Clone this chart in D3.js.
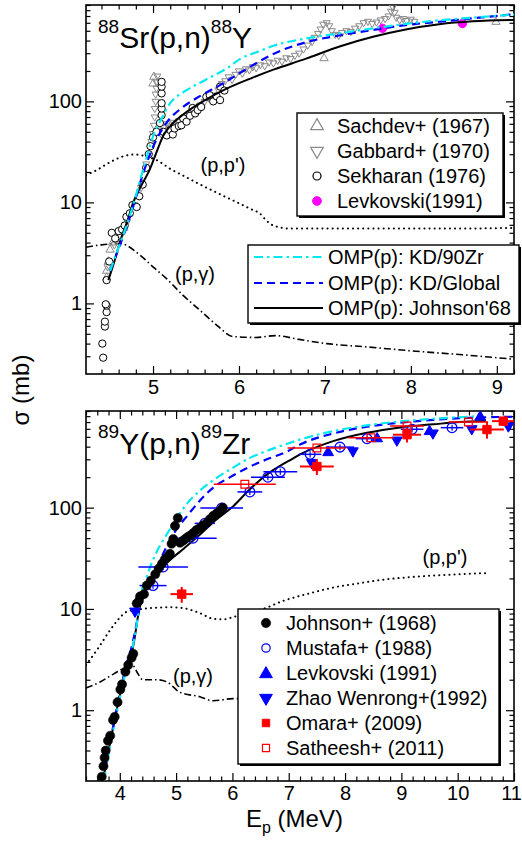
<!DOCTYPE html>
<html><head><meta charset="utf-8">
<script src="https://cdn.jsdelivr.net/npm/d3@7"></script>
<style>
body{margin:0;background:#fff;}
svg text{font-family:"Liberation Sans",Arial,Helvetica,sans-serif;fill:#000;}
</style></head><body>
<svg id="chart" width="522" height="843"></svg>
<script>
// ---------------- DATA ----------------
const yTickLabels = [1, 10, 100];
const yMinorTicks = [0.3,0.4,0.5,0.6,0.7,0.8,0.9,2,3,4,5,6,7,8,9,20,30,40,50,60,70,80,90,200,300,400,500,600,700,800,900];
const topXTicks = [5, 6, 7, 8, 9];
const botXTicks = [4, 5, 6, 7, 8, 9, 10, 11];

// Top panel: 88Sr(p,n)88Y   [E (MeV), sigma (mb)]
const sachdev = [[4.46,1.8],[4.46,2.1],[4.48,2.6],[4.50,3.4],[4.53,4.0],[4.58,4.3],[4.66,5.6],[5.00,150],[5.01,175],[6.99,267],[8.99,612]];
const gabbard = [[4.47,2.3],[4.55,3.8],[4.62,4.6],[4.70,6.5],[4.78,9.5],[4.86,14],[4.92,24],
 [4.98,40],[5.00,48],[5.01,58],[5.02,70],[5.02,85],[5.03,100],[5.03,118],[5.04,135],[5.04,155],[5.05,178],
 [5.07,52],[5.10,47],[5.12,55],[5.14,50],[5.16,60],[5.18,52],[5.20,57],[5.22,50],[5.24,62],[5.27,58],[5.30,64],
 [5.35,66],[5.40,72],[5.45,78],[5.50,84],[5.55,92],[5.60,100],[5.65,108],[5.70,115],
 [5.76,130],[5.80,150],[5.84,160],[5.88,175],[5.92,165],[5.96,185],[6.00,200],[6.04,190],[6.08,210],[6.12,205],[6.16,220],[6.20,215],
 [6.25,230],[6.30,225],[6.35,245],[6.40,240],[6.45,255],[6.50,250],[6.55,270],[6.60,265],[6.65,285],[6.70,300],[6.75,330],[6.80,360],
 [6.85,390],[6.88,430],[6.92,470],[6.95,520],[6.98,580],[7.02,600],[7.05,560],[7.08,500],[7.12,460],[7.16,450],[7.20,480],[7.25,500],
 [7.30,490],[7.35,530],[7.40,560],[7.45,600],[7.50,620],[7.55,590],[7.60,610],[7.65,640],[7.70,660],[7.74,700],[7.77,780],[7.79,860],
 [7.81,760],[7.83,680],[7.87,640],[7.91,660],[7.95,630],[8.00,650],[8.04,620]];
const sekharan = [[4.42,0.29],[4.41,0.40],[4.44,0.59],[4.44,0.66],[4.46,0.82],[4.46,0.95],[4.45,0.98],[4.46,1.7],[4.49,2.6],[4.52,5.0],
 [4.56,4.4],[4.60,5.2],[4.64,5.4],[4.67,5.9],[4.69,7.2],[4.73,7.8],[4.76,9.4],[4.81,9.0],[4.84,11.5],[4.88,15],[4.92,22],[4.95,30],
 [4.97,36],[5.00,44],[5.04,50],[5.08,61],[5.10,73],[5.10,85],[5.10,96],[5.10,120],[5.10,140],[5.10,156],[5.12,50],[5.16,46],[5.20,52],
 [5.23,47],[5.25,54],[5.30,57],[5.33,58],[5.35,68],[5.39,63],[5.43,72],[5.46,86],[5.49,76],[5.52,82],[5.56,88],[5.62,111],[5.66,115],
 [5.70,100],[5.74,112],[5.78,103],[5.78,140],[5.83,128]];
const levkovskiTop = [[7.67,529],[8.60,590]];

const topKD90 = [[4.50,2.1],[4.60,3.6],[4.70,6.2],[4.77,9.5],[4.89,22],[5.00,45],[5.10,68],[5.20,96],[5.39,129],[5.62,165],[5.89,221],
 [6.01,262],[6.24,315],[6.40,355],[6.78,420],[7.17,472],[7.56,529],[7.94,585],[8.33,635],[8.72,675],[9.20,725]];
const topKDGlobal = [[4.50,2.1],[4.60,3.5],[4.70,6.0],[4.77,9.2],[4.89,20],[5.04,42],[5.16,62],[5.35,88],[5.54,112],[5.78,145],[6.05,200],
 [6.24,250],[6.40,295],[6.78,385],[7.17,450],[7.56,509],[7.94,570],[8.33,614],[8.72,665],[9.20,730]];
const topJohnson68 = [[4.48,1.7],[4.55,2.6],[4.62,4.2],[4.70,6.5],[4.77,10],[4.85,14],[4.96,21],[5.05,33],[5.12,46],[5.20,57],[5.35,74],
 [5.58,100],[5.85,133],[6.16,172],[6.40,206],[6.78,265],[7.17,350],[7.56,436],[7.94,515],[8.33,580],[8.72,620],[9.20,640]];
const topPP = [[4.22,18.6],[4.35,21],[4.50,25],[4.65,28.5],[4.79,29.8],[4.92,28.5],[5.05,26],[5.20,21.5],[5.39,17.7],[5.55,15],[5.74,12.5],
 [6.00,9.8],[6.15,8.5],[6.24,7.8],[6.32,6.6],[6.40,5.9],[6.60,5.5],[7.50,5.5],[8.50,5.5],[9.20,5.6]];
const topPG = [[4.22,3.6],[4.40,3.8],[4.62,3.9],[4.85,3.0],[5.00,2.3],[5.16,1.75],[5.35,1.2],[5.55,0.85],[5.75,0.6],[5.93,0.47],[6.20,0.46],
 [6.42,0.48],[6.70,0.44],[7.02,0.40],[7.50,0.37],[7.99,0.34],[8.60,0.31],[9.20,0.28]];

// Bottom panel: 89Y(p,n)89Zr
const johnson = [[3.68,0.22],[3.71,0.28],[3.73,0.34],[3.75,0.40],[3.79,0.50],[3.83,0.56],[3.88,0.80],[3.91,0.86],[3.96,1.20],[4.01,1.6],
 [4.04,1.8],[4.10,2.4],[4.15,2.8],[4.21,3.3],[4.24,3.6],[4.30,11.3],[4.34,12],[4.36,13.3],[4.43,14],[4.48,17],[4.55,19],[4.63,22],
 [4.69,25],[4.75,28],[4.80,31],[4.86,33],[4.89,35],[4.92,44],[4.95,49],[4.98,66],[5.03,79],[5.07,45],[5.12,47],[5.16,49],[5.20,51],
 [5.25,53],[5.30,56],[5.36,60],[5.42,63],[5.48,67],[5.55,71],[5.60,77],[5.66,83],[5.72,88],[5.78,93],[5.83,100]];
const mustafa = [[4.59,17],[4.77,26],[5.30,50],[5.51,70],[5.81,99],[6.31,143],[6.63,200],[6.85,226],[7.38,336],[7.91,396],[8.39,480],[9.19,594],[9.90,616]];
const mustafaDE = [0.24,0.44,0.42,0.18,0.38,0.22,0.30,0.30,0.20,0.25,0.20,0.20,0.20];
const levkovskiBot = [[7.70,350],[8.57,480],[9.50,565],[10.40,786]];
const zhao = [[4.27,9.5],[7.41,278],[8.14,363],[8.92,464],[9.56,545],[10.25,600],[10.90,640]];
const omara = [[5.10,14],[7.50,255],[9.10,525],[10.52,590],[10.81,715]];
const omaraDE = [0.20,0.30,0.25,0.30,0.20];
const omaraDS = [2.5,45,85,110,70];
const satheesh = [[6.22,170],[7.50,388],[8.46,490],[9.10,640],[10.19,700]];
const satheeshDE = [0.55,0.52,0.40,0.30,0.35];

const botKD90 = [[3.72,0.2],[3.82,0.42],[3.92,0.8],[4.02,1.5],[4.12,2.6],[4.22,4.0],[4.30,7.0],[4.36,13],[4.45,18.7],[4.54,26],[4.69,40],[4.83,54],
 [4.98,74],[5.19,109],[5.42,147],[5.72,197],[6.02,250],[6.31,310],[6.61,363],[6.96,425],[7.20,470],[7.79,570],[8.39,650],[8.98,710],[9.57,755],[10.40,800]];
const botKDGlobal = [[3.71,0.2],[3.81,0.43],[3.91,0.82],[4.01,1.55],[4.11,2.7],[4.20,4.0],[4.28,6.3],[4.36,11],[4.45,15],[4.59,21],[4.80,38],[4.98,58],
 [5.22,86],[5.42,117],[5.66,158],[5.96,200],[6.19,235],[6.61,300],[6.96,355],[7.20,420],[7.79,540],[8.39,630],[8.98,690],[9.57,735],[10.20,770],[11.00,790]];
const botJohnson68 = [[3.70,0.2],[3.80,0.40],[3.90,0.75],[4.00,1.4],[4.10,2.4],[4.20,3.4],[4.26,5.0],[4.32,8.3],[4.42,14.3],[4.60,21],[4.83,28.4],
 [5.10,38],[5.42,54],[5.70,75],[6.02,104],[6.30,150],[6.55,200],[7.08,307],[7.20,335],[7.79,454],[8.39,549],[8.98,620],[9.57,665],[10.04,700],[10.50,715]];
const botPP = [[3.40,2.8],[3.59,3.9],[3.83,6.2],[3.95,7.6],[4.13,9.4],[4.40,10],[4.66,10.3],[4.90,10.4],[5.12,10.2],[5.42,9.1],[5.66,8.0],[5.85,7.9],
 [6.01,8.3],[6.31,9.4],[6.49,9.8],[6.90,12],[7.38,14.3],[7.80,16.3],[8.27,18],[8.70,19.5],[9.15,20.6],[9.80,21.7],[10.52,22.6]];
const botPG = [[3.40,1.66],[3.65,1.9],[3.90,2.3],[4.13,2.7],[4.22,2.8],[4.32,2.3],[4.41,2.0],[4.66,2.0],[4.84,1.9],[5.07,1.5],[5.42,1.36],
 [5.66,1.24],[6.01,1.30],[6.30,1.30]];

// ---------------- LAYOUT ----------------
const FONT = '"Liberation Sans", Arial, Helvetica, sans-serif';
const P1 = {l:86, r:514, t:5, b:374, xd:[4.22, 9.2], xTicks: topXTicks, pad:6};
const P2 = {l:86, r:514, t:411, b:781, xd:[3.4, 11], xTicks: botXTicks, pad:5};
const svg = d3.select('#chart');
const CYAN = '#00e8f0', BLUE = '#0000ff', GRAY = '#8a8a8a', MAG = '#ff00ff', RED = '#ff0000';

function makePanel(P, id){
  const xs = d3.scaleLinear().domain(P.xd).range([P.l, P.r]);
  const ys = d3.scaleLog().domain([0.2, 900]).range([P.b, P.t]);
  svg.append('clipPath').attr('id', id).append('rect')
    .attr('x', P.l).attr('y', P.t).attr('width', P.r - P.l).attr('height', P.b - P.t);
  const g = svg.append('g');
  const minorX = d3.range(Math.ceil(P.xd[0]*5)/5, P.xd[1]+1e-9, 0.2)
    .filter(v => Math.abs(v - Math.round(v)) > 1e-6);
  const mk = (axis, tr) => {
    const a = g.append('g').attr('transform', tr).call(axis);
    a.select('.domain').remove();
    a.selectAll('line').attr('stroke', '#000').attr('stroke-width', 1.2);
    a.selectAll('text').attr('font-size', 20).attr('font-family', FONT).attr('fill', '#000');
    return a;
  };
  const xb = mk(d3.axisBottom(xs).tickValues(P.xTicks).tickSizeInner(-8).tickSizeOuter(0).tickPadding(P.pad).tickFormat(d3.format('d')), `translate(0,${P.b})`);
  xb.selectAll('text').filter(d => xs(d) > P.r - 2).attr('dx', -3);
  mk(d3.axisBottom(xs).tickValues(minorX).tickSizeInner(-4.5).tickSizeOuter(0).tickFormat(''), `translate(0,${P.b})`);
  mk(d3.axisTop(xs).tickValues(P.xTicks).tickSizeInner(-8).tickSizeOuter(0).tickFormat(''), `translate(0,${P.t})`);
  mk(d3.axisTop(xs).tickValues(minorX).tickSizeInner(-4.5).tickSizeOuter(0).tickFormat(''), `translate(0,${P.t})`);
  mk(d3.axisLeft(ys).tickValues(yTickLabels).tickSizeInner(-8).tickSizeOuter(0).tickPadding(4).tickFormat(d3.format('d')), `translate(${P.l},0)`);
  mk(d3.axisLeft(ys).tickValues(yMinorTicks).tickSizeInner(-4.5).tickSizeOuter(0).tickFormat(''), `translate(${P.l},0)`);
  mk(d3.axisRight(ys).tickValues(yTickLabels).tickSizeInner(-8).tickSizeOuter(0).tickFormat(''), `translate(${P.r},0)`);
  mk(d3.axisRight(ys).tickValues(yMinorTicks).tickSizeInner(-4.5).tickSizeOuter(0).tickFormat(''), `translate(${P.r},0)`);
  g.append('rect').attr('x', P.l).attr('y', P.t).attr('width', P.r - P.l).attr('height', P.b - P.t)
    .attr('fill', 'none').attr('stroke', '#000').attr('stroke-width', 1.6);
  const plot = svg.append('g').attr('clip-path', `url(#${id})`);
  return {xs, ys, plot};
}

function curve(panel, data, color, width, dash){
  const line = d3.line().x(d => panel.xs(d[0])).y(d => panel.ys(d[1])).curve(d3.curveMonotoneX);
  panel.plot.append('path').datum(data).attr('d', line).attr('fill', 'none')
    .attr('stroke', color).attr('stroke-width', width).attr('stroke-dasharray', dash || null)
    .attr('stroke-linecap', dash && dash.startsWith('0') ? 'round' : 'butt');
}
function symbols(panel, data, type, size, fill, stroke, sw, rot){
  panel.plot.append('g').selectAll('path').data(data).join('path')
    .attr('d', d3.symbol().type(type).size(size))
    .attr('transform', d => `translate(${panel.xs(d[0])},${panel.ys(d[1])})${rot ? ' rotate(180)' : ''}`)
    .attr('fill', fill).attr('stroke', stroke).attr('stroke-width', sw);
}
function xErr(panel, data, de, color, sw){
  panel.plot.append('g').selectAll('line').data(data).join('line')
    .attr('x1', (d,i) => panel.xs(d[0]-de[i])).attr('x2', (d,i) => panel.xs(d[0]+de[i]))
    .attr('y1', d => panel.ys(d[1])).attr('y2', d => panel.ys(d[1]))
    .attr('stroke', color).attr('stroke-width', sw);
}
function yErr(panel, data, ds, color, sw){
  panel.plot.append('g').selectAll('line').data(data).join('line')
    .attr('x1', d => panel.xs(d[0])).attr('x2', d => panel.xs(d[0]))
    .attr('y1', (d,i) => panel.ys(d[1]-ds[i])).attr('y2', (d,i) => panel.ys(d[1]+ds[i]))
    .attr('stroke', color).attr('stroke-width', sw);
}
function label(x, y, txt, size){
  svg.append('text').attr('x', x).attr('y', y).attr('font-size', size || 20).attr('text-anchor', 'middle').text(txt);
}

// ---------------- TOP PANEL ----------------
const A = makePanel(P1, 'clipTop');
curve(A, topPP, '#000', 2, '0.1,5');
curve(A, topPG, '#000', 1.6, '7,3,1.5,3');
symbols(A, gabbard, d3.symbolTriangle, 22, 'none', GRAY, 1, true);
symbols(A, sachdev, d3.symbolTriangle, 30, 'none', GRAY, 1, false);
symbols(A, sekharan, d3.symbolCircle, 42, '#fff', '#000', 1);
yErr(A, levkovskiTop, levkovskiTop.map(d => d[1]*0.08), MAG, 1.5);
symbols(A, levkovskiTop, d3.symbolCircle, 55, MAG, MAG, 1);
curve(A, topJohnson68, '#000', 2);
curve(A, topKDGlobal, BLUE, 2.2, '8,5');
curve(A, topKD90, CYAN, 2.2, '9,4,2.5,4');

// title
const t1 = svg.append('text').attr('x', 98).attr('y', 48).attr('font-size', 30);
t1.append('tspan').attr('font-size', 19).attr('dy', -15).text('88');
t1.append('tspan').attr('dy', 15).text('Sr(p,n)');
t1.append('tspan').attr('font-size', 19).attr('dy', -15).text('88');
t1.append('tspan').attr('dy', 15).text('Y');

label(223, 172, "(p,p')");
label(195, 281, '(p,\u03b3)');

// legend 1
function box(x, y, w, h){
  svg.append('rect').attr('x', x+2).attr('y', y+2).attr('width', w).attr('height', h).attr('fill', '#000');
  svg.append('rect').attr('x', x).attr('y', y).attr('width', w).attr('height', h).attr('fill', '#fff').attr('stroke', '#000').attr('stroke-width', 1.4);
}
function legSym(x, y, type, size, fill, stroke, sw, rot){
  svg.append('path').attr('d', d3.symbol().type(type).size(size)())
    .attr('transform', `translate(${x},${y})${rot ? ' rotate(180)' : ''}`)
    .attr('fill', fill).attr('stroke', stroke).attr('stroke-width', sw);
}
function legText(x, y, txt){
  svg.append('text').attr('x', x).attr('y', y).attr('font-size', 20).text(txt);
}
box(297, 113, 206, 103);
legSym(317, 126, d3.symbolTriangle, 70, 'none', GRAY, 1.2, false); legText(337, 133, 'Sachdev+ (1967)');
legSym(317, 151, d3.symbolTriangle, 70, 'none', GRAY, 1.2, true);  legText(337, 158, 'Gabbard+ (1970)');
legSym(317, 176, d3.symbolCircle, 50, 'none', '#000', 1.2);          legText(337, 183, 'Sekharan (1976)');
legSym(317, 201, d3.symbolCircle, 60, MAG, MAG, 1);                  legText(337, 208, 'Levkovski(1991)');

// legend 2
box(248, 245, 271, 78);
const legLine = (y, c, w, dash) => svg.append('line').attr('x1', 254).attr('x2', 323).attr('y1', y).attr('y2', y)
  .attr('stroke', c).attr('stroke-width', w).attr('stroke-dasharray', dash || null);
legLine(257, CYAN, 2.2, '9,4,2.5,4'); legText(328, 264, 'OMP(p): KD/90Zr');
legLine(283, BLUE, 2.2, '8,5');       legText(328, 290, 'OMP(p): KD/Global');
legLine(308, '#000', 2);              legText(328, 315, "OMP(p): Johnson'68");

// ---------------- BOTTOM PANEL ----------------
const B = makePanel(P2, 'clipBot');
curve(B, botPP, '#000', 2, '0.1,5');
curve(B, botPG, '#000', 1.6, '7,3,1.5,3');
curve(B, botJohnson68, '#000', 2);
curve(B, botKDGlobal, BLUE, 2.2, '8,5');
curve(B, botKD90, CYAN, 2.2, '9,4,2.5,4');

xErr(B, mustafa, mustafaDE, BLUE, 1.5);
yErr(B, mustafa, mustafa.map(d => d[1]*0.07), BLUE, 1.2);
symbols(B, mustafa, d3.symbolCircle, 75, 'none', BLUE, 1.3);
symbols(B, johnson, d3.symbolCircle, 66, '#000', '#000', 0.5);
symbols(B, levkovskiBot, d3.symbolTriangle, 50, BLUE, BLUE, 1, false);
symbols(B, zhao, d3.symbolTriangle, 50, BLUE, BLUE, 1, true);
xErr(B, satheesh, satheeshDE, RED, 1.5);
symbols(B, satheesh, d3.symbolSquare, 60, 'none', RED, 1.2);
xErr(B, omara, omaraDE, RED, 2);
yErr(B, omara, omaraDS, RED, 2);
symbols(B, omara, d3.symbolSquare, 70, RED, RED, 1);

const t2 = svg.append('text').attr('x', 98).attr('y', 454).attr('font-size', 30);
t2.append('tspan').attr('font-size', 19).attr('dy', -16).text('89');
t2.append('tspan').attr('dy', 16).text('Y(p,n)');
t2.append('tspan').attr('font-size', 19).attr('dy', -16).text('89');
t2.append('tspan').attr('dy', 16).text('Zr');

label(445, 564, "(p,p')");
label(193, 683, '(p,\u03b3)');

box(238, 609, 261, 155);
legSym(266, 623, d3.symbolCircle, 70, '#000', '#000', 0.5);          legText(286, 630, 'Johnson+ (1968)');
legSym(266, 648, d3.symbolCircle, 55, 'none', BLUE, 1.2);            legText(286, 655, 'Mustafa+ (1988)');
legSym(266, 674, d3.symbolTriangle, 70, BLUE, BLUE, 1, false);      legText(286, 680, 'Levkovski (1991)');
legSym(266, 698, d3.symbolTriangle, 70, BLUE, BLUE, 1, true);       legText(286, 705, 'Zhao Wenrong+(1992)');
legSym(266, 723, d3.symbolSquare, 55, RED, RED, 1);                  legText(286, 730, 'Omara+ (2009)');
legSym(266, 748, d3.symbolSquare, 50, 'none', RED, 1.2);             legText(286, 755, 'Satheesh+ (2011)');

// axis titles
const xl = svg.append('text').attr('x', 246).attr('y', 827).attr('font-size', 24);
xl.append('tspan').text('E');
xl.append('tspan').attr('font-size', 16).attr('dy', 6).text('p');
xl.append('tspan').attr('dy', -6).text(' (MeV)');
svg.append('text').attr('transform', 'translate(29,390) rotate(-90)').attr('text-anchor', 'middle')
  .attr('font-size', 24).text('\u03c3 (mb)');
</script></body></html>
